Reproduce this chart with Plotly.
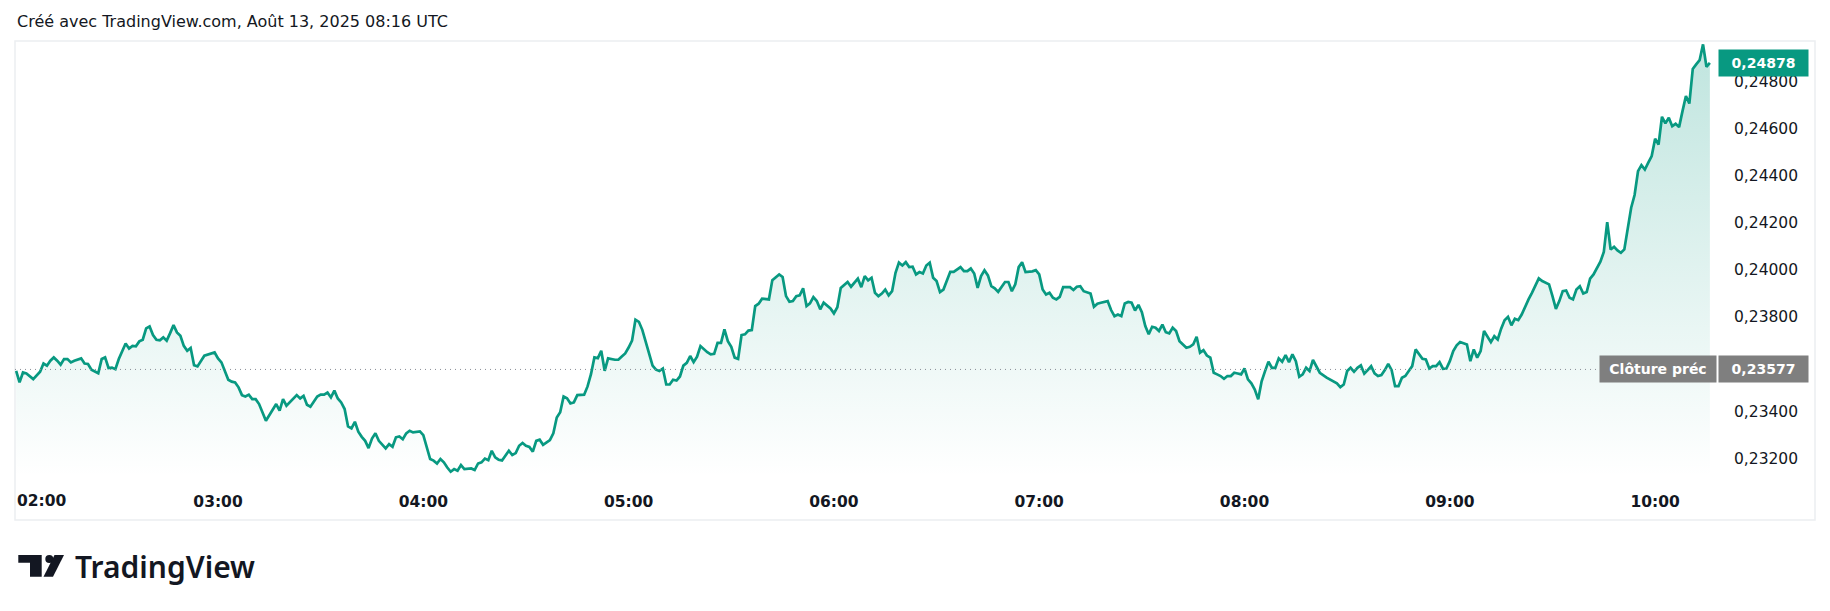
import plotly.graph_objects as go

# ---------------- data ----------------
DAY = "2025-08-13"
times = [
    # 02h
    "02:01","02:02","02:03","02:04","02:06","02:08","02:09","02:10","02:11","02:12","02:13","02:14","02:15","02:16","02:17","02:18","02:20","02:21","02:22","02:23","02:25","02:26","02:27","02:28","02:29","02:30","02:31","02:33","02:34","02:35","02:36","02:37","02:38","02:39","02:40","02:41","02:42","02:43","02:44","02:45","02:46","02:47","02:48","02:49","02:50","02:51","02:52","02:53","02:54","02:56","02:59",
    # 03h
    "03:00","03:01","03:03","03:04","03:05","03:06","03:07","03:08","03:09","03:10","03:11","03:12","03:13","03:14","03:17","03:18","03:19","03:20","03:23","03:24","03:25","03:26","03:27","03:29","03:30","03:31","03:32","03:33","03:34","03:35","03:36","03:37","03:38","03:39","03:40","03:41","03:42","03:43","03:44","03:45","03:46","03:47","03:49","03:50","03:51","03:52","03:53","03:54","03:55","03:56","03:57","03:59",
    # 04h
    "04:00","04:01","04:02","04:03","04:04","04:05","04:06","04:07","04:08","04:09","04:10","04:11","04:12","04:14","04:15","04:16","04:17","04:18","04:19","04:20","04:21","04:22","04:23","04:25","04:26","04:27","04:28","04:29","04:30","04:31","04:32","04:33","04:34","04:35","04:37","04:38","04:39","04:40","04:41","04:42","04:43","04:44","04:45","04:47","04:48","04:49","04:50","04:51","04:52","04:53","04:54","04:56","04:57","04:58","04:59",
    # 05h
    "05:00","05:01","05:02","05:03","05:04","05:05","05:07","05:08","05:09","05:10","05:11","05:12","05:13","05:14","05:15","05:16","05:17","05:18","05:19","05:20","05:21","05:23","05:24","05:25","05:26","05:27","05:28","05:29","05:30","05:31","05:32","05:33","05:34","05:35","05:36","05:37","05:38","05:39","05:40","05:41","05:42","05:43","05:44","05:45","05:46","05:47","05:48","05:49","05:50","05:51","05:52","05:53","05:54","05:55","05:56","05:57","05:58","05:59",
    # 06h
    "06:00","06:01","06:02","06:03","06:04","06:05","06:06","06:07","06:08","06:09","06:10","06:11","06:12","06:13","06:14","06:15","06:16","06:17","06:18","06:19","06:20","06:21","06:22","06:23","06:24","06:25","06:26","06:27","06:28","06:29","06:30","06:31","06:32","06:34","06:35","06:36","06:37","06:38","06:39","06:40","06:41","06:42","06:43","06:44","06:45","06:46","06:47","06:48","06:49","06:50","06:51","06:52","06:53","06:54","06:55","06:56","06:58","06:59",
    # 07h
    "07:00","07:01","07:02","07:03","07:04","07:05","07:06","07:07","07:09","07:10","07:11","07:12","07:13","07:15","07:16","07:17","07:18","07:20","07:21","07:22","07:23","07:24","07:25","07:26","07:27","07:28","07:29","07:30","07:31","07:32","07:33","07:34","07:35","07:36","07:37","07:38","07:39","07:40","07:41","07:42","07:43","07:44","07:45","07:46","07:47","07:48","07:49","07:50","07:51","07:52","07:53","07:54","07:55","07:56","07:57","07:58","07:59",
    # 08h
    "08:00","08:01","08:02","08:03","08:04","08:05","08:06","08:07","08:08","08:09","08:10","08:11","08:12","08:13","08:14","08:15","08:16","08:17","08:18","08:19","08:20","08:21","08:22","08:24","08:25","08:27","08:28","08:29","08:30","08:31","08:32","08:33","08:34","08:35","08:36","08:37","08:38","08:39","08:40","08:41","08:42","08:43","08:44","08:45","08:46","08:47","08:48","08:49","08:50","08:51","08:52","08:53","08:54","08:55","08:56","08:57","08:58","08:59",
    # 09h
    "09:00","09:01","09:02","09:03","09:04","09:05","09:06","09:07","09:08","09:09","09:10","09:11","09:12","09:13","09:14","09:15","09:16","09:17","09:18","09:19","09:20","09:21","09:22","09:23","09:24","09:25","09:26","09:27","09:28","09:29","09:30","09:31","09:32","09:33","09:34","09:35","09:36","09:37","09:38","09:39","09:40","09:41","09:42","09:43","09:44","09:45","09:46","09:47","09:48","09:49","09:50","09:51","09:52","09:53","09:54","09:55","09:56","09:57","09:58","09:59",
    # 10h
    "10:00","10:01","10:02","10:03","10:04","10:05","10:06","10:07","10:08","10:09","10:10","10:11","10:12","10:13","10:14","10:15","10:16",
]
prices = [
    # 02h
    0.23571,0.23522,0.23564,0.23560,0.23536,0.23567,0.23602,0.23593,0.23614,0.23628,0.23614,0.23597,0.23621,0.23621,0.23607,0.23614,0.23624,0.23602,0.23600,0.23576,0.23561,0.23621,0.23628,0.23583,0.23585,0.23578,0.23621,0.23687,0.23666,0.23677,0.23675,0.23696,0.23703,0.23751,0.23759,0.23723,0.23703,0.23701,0.23713,0.23699,0.23731,0.23765,0.23734,0.23720,0.23677,0.23656,0.23668,0.23595,0.23590,0.23635,0.23649,
    # 03h
    0.23624,0.23607,0.23533,0.23525,0.23522,0.23501,0.23468,0.23462,0.23470,0.23451,0.23451,0.23430,0.23395,0.23359,0.23430,0.23402,0.23451,0.23423,0.23468,0.23454,0.23465,0.23427,0.23419,0.23462,0.23470,0.23470,0.23479,0.23458,0.23487,0.23454,0.23437,0.23409,0.23335,0.23327,0.23355,0.23313,0.23291,0.23274,0.23243,0.23284,0.23306,0.23274,0.23242,0.23260,0.23249,0.23289,0.23293,0.23281,0.23306,0.23317,0.23310,0.23314,
    # 04h
    0.23298,0.23246,0.23197,0.23190,0.23178,0.23197,0.23183,0.23161,0.23143,0.23154,0.23147,0.23171,0.23154,0.23157,0.23150,0.23178,0.23183,0.23199,0.23192,0.23232,0.23204,0.23194,0.23191,0.23232,0.23214,0.23222,0.23253,0.23265,0.23253,0.23248,0.23228,0.23274,0.23279,0.23257,0.23277,0.23306,0.23373,0.23395,0.23462,0.23455,0.23433,0.23437,0.23468,0.23470,0.23505,0.23557,0.23628,0.23625,0.23656,0.23571,0.23624,0.23618,0.23618,0.23632,0.23645,
    # 05h
    0.23670,0.23699,0.23788,0.23779,0.23745,0.23692,0.23593,0.23576,0.23570,0.23581,0.23513,0.23513,0.23533,0.23530,0.23547,0.23593,0.23605,0.23634,0.23608,0.23631,0.23676,0.23650,0.23641,0.23643,0.23690,0.23690,0.23747,0.23697,0.23673,0.23627,0.23622,0.23723,0.23726,0.23742,0.23744,0.23846,0.23856,0.23877,0.23877,0.23874,0.23956,0.23970,0.23980,0.23969,0.23888,0.23864,0.23867,0.23888,0.23891,0.23921,0.23846,0.23857,0.23884,0.23867,0.23832,0.23860,0.23846,0.23836,
    # 06h
    0.23815,0.23841,0.23923,0.23935,0.23948,0.23928,0.23945,0.23962,0.23926,0.23973,0.23955,0.23966,0.23902,0.23888,0.23899,0.23916,0.23891,0.23909,0.23987,0.24030,0.24018,0.24032,0.24011,0.24013,0.23980,0.23990,0.23984,0.24018,0.24030,0.23966,0.23952,0.23905,0.23916,0.23991,0.23991,0.24001,0.24011,0.23994,0.23994,0.24005,0.23984,0.23923,0.23973,0.23998,0.23976,0.23930,0.23921,0.23906,0.23926,0.23948,0.23948,0.23909,0.23938,0.24011,0.24032,0.23990,0.23993,0.23998,
    # 07h
    0.23980,0.23916,0.23895,0.23902,0.23881,0.23874,0.23885,0.23926,0.23926,0.23914,0.23928,0.23930,0.23909,0.23899,0.23843,0.23856,0.23860,0.23867,0.23829,0.23803,0.23810,0.23803,0.23857,0.23863,0.23860,0.23827,0.23851,0.23820,0.23761,0.23726,0.23758,0.23754,0.23740,0.23767,0.23735,0.23730,0.23754,0.23740,0.23697,0.23683,0.23669,0.23673,0.23683,0.23716,0.23648,0.23659,0.23636,0.23627,0.23563,0.23556,0.23549,0.23537,0.23549,0.23549,0.23563,0.23560,0.23556,
    # 08h
    0.23581,0.23535,0.23518,0.23492,0.23450,0.23527,0.23570,0.23610,0.23584,0.23584,0.23624,0.23610,0.23638,0.23608,0.23641,0.23612,0.23546,0.23556,0.23584,0.23570,0.23617,0.23591,0.23563,0.23542,0.23535,0.23518,0.23502,0.23513,0.23570,0.23584,0.23567,0.23584,0.23594,0.23559,0.23574,0.23591,0.23560,0.23549,0.23553,0.23574,0.23601,0.23574,0.23506,0.23506,0.23542,0.23549,0.23570,0.23591,0.23662,0.23641,0.23622,0.23619,0.23581,0.23591,0.23591,0.23608,0.23580,0.23581,
    # 09h
    0.23612,0.23655,0.23679,0.23693,0.23687,0.23683,0.23612,0.23662,0.23627,0.23655,0.23740,0.23718,0.23693,0.23718,0.23704,0.23750,0.23786,0.23800,0.23764,0.23792,0.23786,0.23810,0.23846,0.23874,0.23902,0.23933,0.23963,0.23952,0.23945,0.23938,0.23888,0.23834,0.23867,0.23909,0.23912,0.23881,0.23874,0.23916,0.23930,0.23899,0.23905,0.23962,0.23980,0.24004,0.24034,0.24075,0.24202,0.24086,0.24097,0.24082,0.24072,0.24086,0.24185,0.24263,0.24317,0.24418,0.24444,0.24425,0.24454,0.24482,
    # 10h
    0.24556,0.24531,0.24649,0.24621,0.24645,0.24609,0.24619,0.24605,0.24673,0.24737,0.24705,0.24852,0.24871,0.24889,0.24956,0.24861,0.24878,
]
prev_close = 0.23577
last_price = 0.24878
price_ticks = [0.23200, 0.23400, 0.23600, 0.23800, 0.24000, 0.24200, 0.24400, 0.24600, 0.24800]
hour_ticks = ["03:00", "04:00", "05:00", "06:00", "07:00", "08:00", "09:00", "10:00"]
first_hour_label = "02:00"
header_text = "Créé avec TradingView.com, Août 13, 2025 08:16 UTC"
brand_text = "TradingView"
prev_close_text = "Clôture préc"

# ---------------- layout geometry (pixels) ----------------
W, H = 1830, 611
L, R, T, B = 15, 1717, 41, 478
x_range = [f"{DAY} 02:00:40", f"{DAY} 10:18:05"]
y_range = [0.231164, 0.249704]

GREEN = "#089981"
TEXT = "#131722"
GRAY_LBL = "#7f7f7f"
FONT = "DejaVu Sans, Verdana, sans-serif"
BRAND_FONT = "Noto Sans, Open Sans, sans-serif"


def px2x(px):
    return (px - L) / (R - L)


def px2y(py):
    return (B - py) / (B - T)


def fmt(v):
    return f"{v:.5f}".replace(".", ",")


xs = [f"{DAY} {t}" for t in times]

fig = go.Figure()
fig.add_trace(go.Scatter(
    x=xs, y=prices, mode="lines",
    line=dict(color=GREEN, width=2.7),
    fill="tozeroy",
    fillgradient=dict(type="vertical",
                      colorscale=[[0, "rgba(8,153,129,0.0)"], [1, "rgba(8,153,129,0.26)"]],
                      start=y_range[0], stop=y_range[1]),
    hoverinfo="skip", showlegend=False,
))

shapes = []
# previous close dotted line
shapes.append(dict(type="line", xref="paper", yref="y", x0=0, x1=1,
                   y0=prev_close, y1=prev_close,
                   line=dict(color="#8a8d96", width=1, dash="1px,4px"), layer="above"))
# outer frame of the chart
shapes.append(dict(type="rect", xref="paper", yref="paper",
                   x0=px2x(15), x1=px2x(1815), y0=px2y(520), y1=px2y(41),
                   line=dict(color="#eceef1", width=1.5), layer="below"))
# TradingView logo mark
shapes.append(dict(type="path", xref="paper", yref="paper",
                   path=("M {a},{b} L {c},{b} L {c},{d} L {e},{d} L {e},{f} L {a},{f} Z").format(
                       a=px2x(18.3), b=px2y(555), c=px2x(41.7), d=px2y(576.7), e=px2x(30), f=px2y(562.7)),
                   fillcolor=TEXT, line=dict(width=0)))
shapes.append(dict(type="circle", xref="paper", yref="paper",
                   x0=px2x(45.3), x1=px2x(53.3), y0=px2y(563), y1=px2y(555),
                   fillcolor=TEXT, line=dict(width=0)))
shapes.append(dict(type="path", xref="paper", yref="paper",
                   path=("M {a},{t} L {b},{t} L {c},{u} L {d},{u} Z").format(
                       a=px2x(54.5), b=px2x(64), c=px2x(53), d=px2x(43.5), t=px2y(555), u=px2y(576.7)),
                   fillcolor=TEXT, line=dict(width=0)))

annotations = []
annotations.append(dict(text=header_text, xref="paper", yref="paper", x=px2x(15), y=px2y(21.7),
                        xanchor="left", yanchor="middle", showarrow=False,
                        font=dict(family=FONT, size=16, color=TEXT)))
annotations.append(dict(text=brand_text, xref="paper", yref="paper", x=px2x(73), y=px2y(566),
                        xanchor="left", yanchor="middle", showarrow=False,
                        font=dict(family=BRAND_FONT, size=30, color=TEXT, weight=600)))
annotations.append(dict(text=first_hour_label, xref="paper", yref="paper", x=px2x(15), y=px2y(500.7),
                        xanchor="left", yanchor="middle", showarrow=False,
                        font=dict(family=FONT, size=15.5, color=TEXT, weight=700)))
# last price label
annotations.append(dict(text=fmt(last_price), xref="paper", yref="y", x=px2x(1763.5), y=last_price,
                        xanchor="center", yanchor="middle", showarrow=False,
                        width=89, height=26, bgcolor=GREEN, borderpad=0,
                        font=dict(family=FONT, size=14, color="white", weight=700)))
# previous close labels
annotations.append(dict(text=prev_close_text, xref="paper", yref="y", x=px2x(1657.5), y=prev_close,
                        xanchor="center", yanchor="middle", showarrow=False,
                        width=116, height=26, bgcolor=GRAY_LBL, borderpad=0,
                        font=dict(family=FONT, size=14, color="white", weight=700)))
annotations.append(dict(text=fmt(prev_close), xref="paper", yref="y", x=px2x(1763.5), y=prev_close,
                        xanchor="center", yanchor="middle", showarrow=False,
                        width=89, height=26, bgcolor=GRAY_LBL, borderpad=0,
                        font=dict(family=FONT, size=14, color="white", weight=700)))

fig.update_layout(
    width=W, height=H,
    margin=dict(l=L, r=W - R, t=T, b=H - B, pad=0),
    paper_bgcolor="white", plot_bgcolor="white",
    separators=", ",
    shapes=shapes, annotations=annotations,
    xaxis=dict(type="date", range=x_range, showgrid=False, zeroline=False, showline=False,
               tickvals=[f"{DAY} {t}" for t in hour_ticks], ticktext=hour_ticks,
               ticks="", ticklabelstandoff=12,
               tickfont=dict(family=FONT, size=15.5, color=TEXT, weight=700), fixedrange=True),
    yaxis=dict(range=y_range, side="right", showgrid=False, zeroline=False, showline=False,
               tickvals=price_ticks, ticktext=[fmt(v) for v in price_ticks],
               ticks="", ticklabelstandoff=16,
               tickfont=dict(family=FONT, size=15.5, color=TEXT), fixedrange=True),
    hovermode=False,
)

fig.write_html("out.html", config={"displayModeBar": False})
